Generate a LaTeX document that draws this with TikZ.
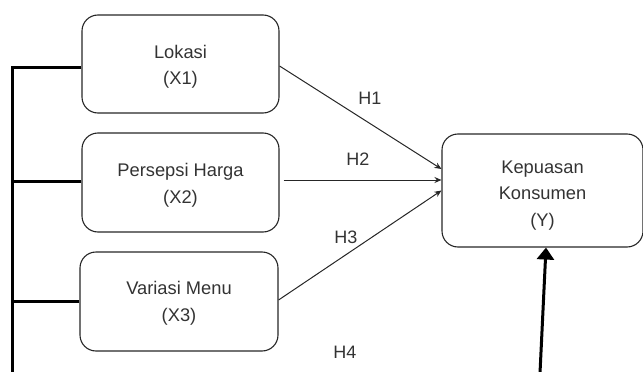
\documentclass[tikz,border=0pt]{standalone}
\usepackage{fontspec}
\setmainfont{Liberation Sans}
\usetikzlibrary{arrows.meta}
\begin{document}
\begin{tikzpicture}[x=1pt,y=-1pt,
 box/.style={draw=black!85, rounded corners=16pt, line width=1.1pt, inner sep=0pt},
 txt/.style={align=center, font=\fontsize{18.3}{26.5}\selectfont, inner sep=0pt, text=black!80},
 thinarrow/.style={line width=1pt, black!85, -{Stealth[length=7pt,width=6pt]}},
 thickline/.style={line width=3pt, black},
 lbl/.style={font=\fontsize{18}{20}\selectfont, text=black!80, inner sep=0pt}]
\useasboundingbox (0,0) rectangle (643,372);
\node[box, minimum width=197pt, minimum height=98pt] (x1) at (180.5,64) {};
\node[box, minimum width=197pt, minimum height=99pt] (x2) at (180.5,182.5) {};
\node[box, minimum width=198pt, minimum height=99pt] (x3) at (179,301.5) {};
\node[box, minimum width=201pt, minimum height=113pt] (y) at (542.5,190.5) {};
\node[txt] (x1t) at ([yshift=-3pt]x1.center) {Lokasi\\(X1)};
\node[txt] (x2t) at ([yshift=-3pt]x2.center) {Persepsi Harga\\(X2)};
\node[txt] (x3t) at ([yshift=-2pt]x3.center) {Variasi Menu\\(X3)};
\node[txt] (yt) at ([yshift=-5pt]y.center) {Kepuasan\\Konsumen\\(Y)};
% hypothesis arrows
\draw[thinarrow] ([yshift=-2pt]x1.east) -- ([yshift=21.5pt]y.west);
\draw[thinarrow] ([xshift=4pt,yshift=2.5pt]x2.east) -- ([yshift=10.5pt]y.west);
\draw[thinarrow] ([yshift=1.5pt]x3.east) -- (y.west);
\node[lbl] (h1) at (370,98) {H1};
\node[lbl] (h2) at (358,159) {H2};
\node[lbl] (h3) at (346,237) {H3};
\node[lbl] (h4) at (345,352) {H4};
% left bar
\coordinate (j1) at (12,67);
\coordinate (j2) at (12,181);
\coordinate (j3) at (12,301);
\coordinate (b0) at (12,373);
\draw[thickline] (x1.west |- j1) -- (j1) -- (b0);
\draw[thickline] (x2.west |- j2) -- (j2);
\draw[thickline] (x3.west |- j3) -- (j3);
% bottom arrow
\coordinate (b1) at (540,373);
\draw[thickline, -{Triangle[length=12pt,width=17pt]}] (b1) -- ([xshift=3.5pt]y.south);
\end{tikzpicture}
\end{document}
